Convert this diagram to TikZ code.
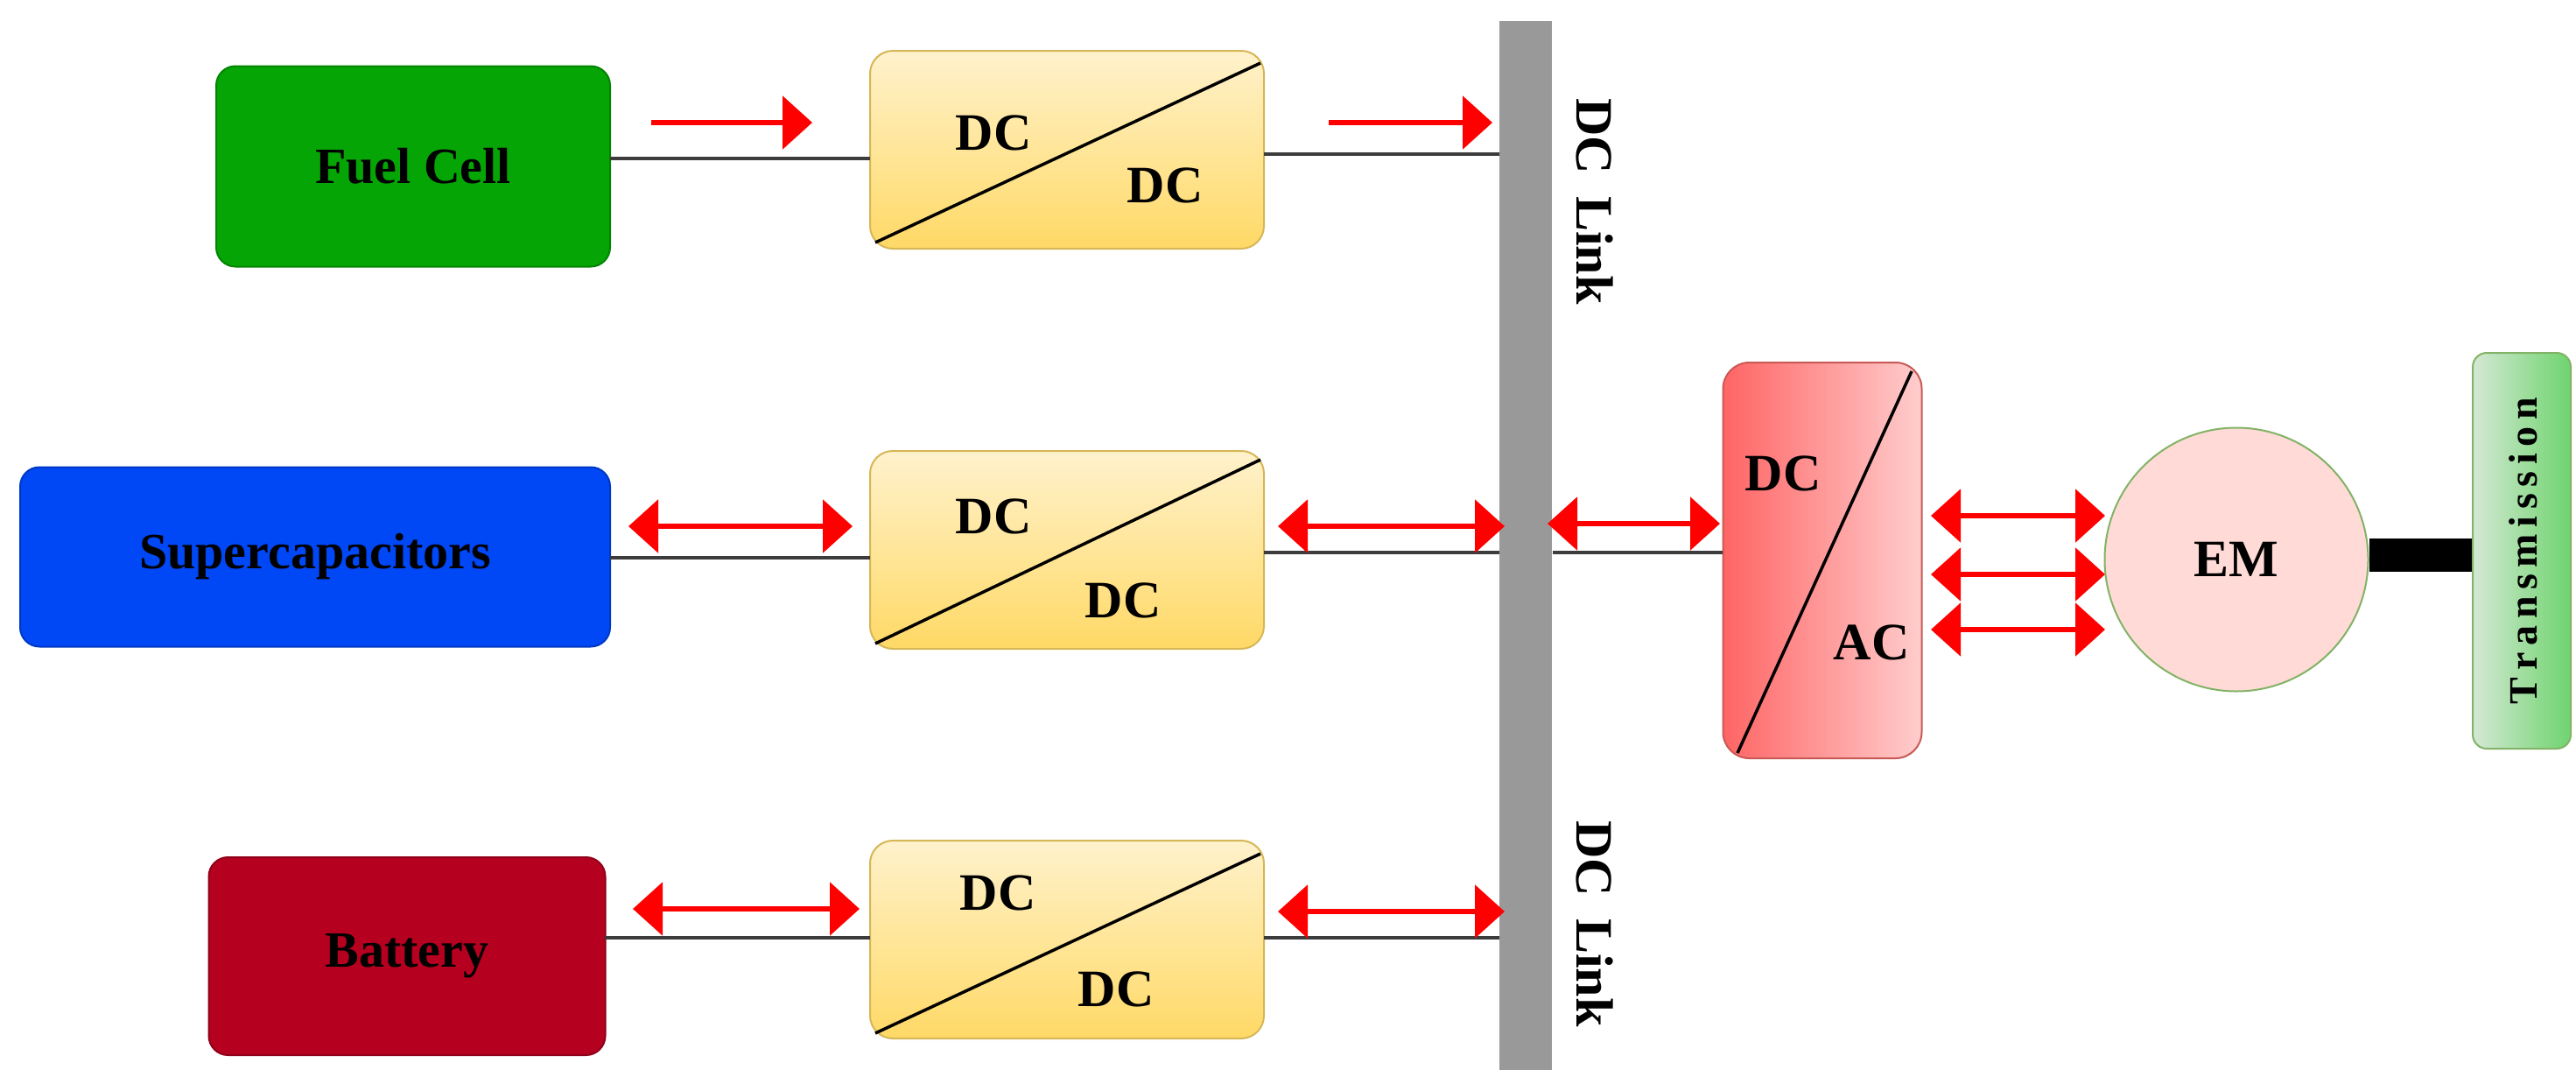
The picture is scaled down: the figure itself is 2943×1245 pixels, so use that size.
\documentclass[tikz,border=0pt]{standalone}
\usepackage{fontspec}
\setmainfont{Liberation Serif}
\usetikzlibrary{arrows.meta,shapes.geometric}
\begin{document}
\begin{tikzpicture}[x=1pt,y=-1pt,
 src/.style={rounded corners=22pt,draw=#1!80!black,line width=2pt,fill=#1,font=\fontsize{58}{68}\selectfont\bfseries},
 conv/.style={rounded corners=26pt,draw={rgb,255:red,214;green,182;blue,86},line width=2pt,top color={rgb,255:red,255;green,242;blue,204},bottom color={rgb,255:red,255;green,217;blue,102},minimum width=450pt,minimum height=226pt},
 lbl/.style={font=\fontsize{60}{70}\selectfont\bfseries},
 wire/.style={line width=4pt,draw={rgb,255:red,60;green,60;blue,60}},
 rarr/.style={red,line width=6pt,-{Triangle[length=34pt,width=60pt]}},
 darr/.style={red,line width=6pt,{Triangle[length=34pt,width=60pt]}-{Triangle[length=34pt,width=60pt]}}]
\definecolor{fcg}{RGB}{5,165,5}
\definecolor{scb}{RGB}{0,71,245}
\definecolor{bat}{RGB}{181,0,31}
\useasboundingbox (0,0) rectangle (2943,1245);
% bus
\node[fill={rgb,255:red,153;green,153;blue,153},minimum width=60pt,minimum height=1198pt,inner sep=0] (bus) at (1743,623) {};
\node[lbl,rotate=-90] (l1) at (1822,230) {DC\, Link};
\node[lbl,rotate=-90] (l2) at (1822,1055) {DC\, Link};
% sources
\node[src=fcg,minimum width=450pt,minimum height=229pt] (fc) at (472,190) {Fuel Cell};
\node[src=scb,minimum width=674pt,minimum height=205pt] (sc) at (360,636) {Supercapacitors};
\node[src=bat,minimum width=453pt,minimum height=226pt] (bt) at (465,1092) {Battery};
% converters
\node[conv] (c1) at (1219,171) {};
\node[conv] (c2) at (1219,628) {};
\node[conv] (c3) at (1219,1073) {};
\draw[line width=3.5pt] (1000,277) -- (1440,72);
\draw[line width=3.5pt] (1000,735) -- (1440,525);
\draw[line width=3.5pt] (1000,1180) -- (1440,975);
\node[lbl] (t1a) at (1135,152) {DC};
\node[lbl] (t1b) at (1331,212) {DC};
\node[lbl] (t2a) at (1135,590) {DC};
\node[lbl] (t2b) at (1283,686) {DC};
\node[lbl] (t3a) at (1140,1020) {DC};
\node[lbl] (t3b) at (1275,1130) {DC};
% wires
\coordinate (w1) at (697,181); \coordinate (w1b) at (994,181);
\coordinate (w2) at (1444,176); \coordinate (w2b) at (1713,176);
\draw[wire] (w1) -- (w1b); \draw[wire] (w2) -- (w2b);
\coordinate (w3) at (697,637); \coordinate (w3b) at (994,637);
\coordinate (w4) at (1444,631); \coordinate (w4b) at (1713,631);
\draw[wire] (w3) -- (w3b); \draw[wire] (w4) -- (w4b);
\coordinate (w5) at (691,1071); \coordinate (w5b) at (994,1071);
\coordinate (w6) at (1444,1071); \coordinate (w6b) at (1713,1071);
\draw[wire] (w5) -- (w5b); \draw[wire] (w6) -- (w6b);
% DC/AC
\node[rounded corners=30pt,draw={rgb,255:red,200;green,90;blue,85},line width=2pt,left color={rgb,255:red,255;green,100;blue,100},right color={rgb,255:red,255;green,205;blue,205},minimum width=227pt,minimum height=452pt] (inv) at (2082,640) {};
\draw[line width=3.5pt] (1985,860) -- (2184,424);
\node[lbl] (ia) at (2037,541) {DC};
\node[lbl] (ib) at (2138,734) {AC};
\coordinate (w7) at (1774,631);
\draw[wire] (w7) -- (w7 -| inv.west);
% EM
\node[circle,draw={rgb,255:red,130;green,179;blue,102},line width=2pt,fill={rgb,255:red,255;green,218;blue,214},minimum size=301pt,lbl] (em) at (2555,639) {EM};
\node[rounded corners=16pt,draw={rgb,255:red,130;green,179;blue,102},line width=2pt,left color={rgb,255:red,213;green,232;blue,212},right color={rgb,255:red,110;green,212;blue,110},minimum width=112pt,minimum height=452pt] (tr) at (2881,629) {};
\node[rotate=90,font=\fontsize{46}{54}\selectfont\bfseries] (trt) at (2883,629) {T\,r\,a\,n\,s\,m\,i\,s\,s\,i\,o\,n};
\draw[line width=38pt] (em.east |- 0,634) -- (tr.west |- 0,634);
% arrows
\draw[rarr] (744,140) -- (928,140);
\draw[rarr] (1518,140) -- (1705,140);
\draw[darr] (718,601) -- (974,601);
\draw[darr] (1460,601) -- (1719,601);
\draw[darr] (1768,598) -- (1965,598);
\draw[darr] (723,1038) -- (982,1038);
\draw[darr] (1460,1041) -- (1719,1041);
\draw[darr] (2206,589) -- (2405,589);
\draw[darr] (2206,656) -- (2405,656);
\draw[darr] (2206,719) -- (2405,719);
\end{tikzpicture}
\end{document}
